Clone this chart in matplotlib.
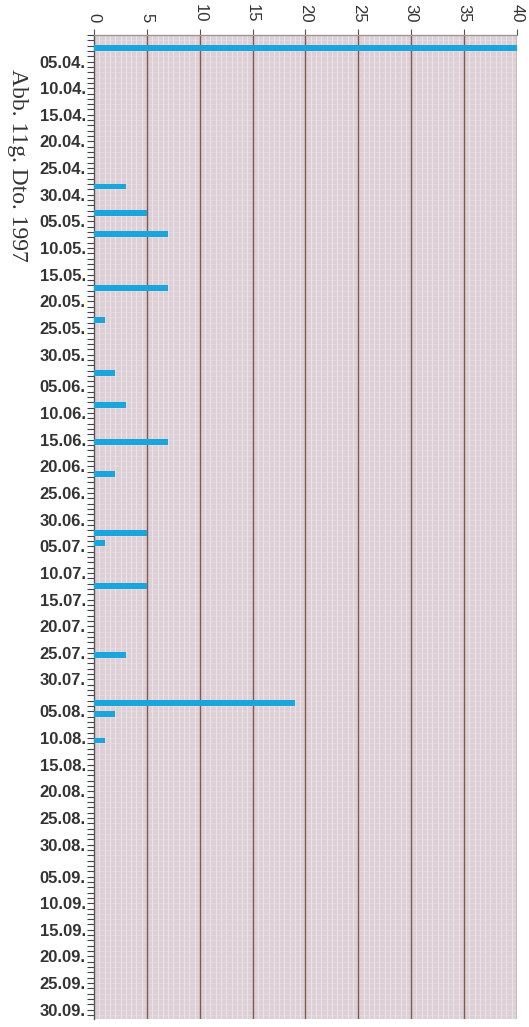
import datetime as dt
import matplotlib
matplotlib.use("Agg")
import matplotlib.pyplot as plt
from matplotlib.ticker import MultipleLocator, FixedLocator
import numpy as np

# ---- data ----
year = 1997
bar_dates = ["03.04", "29.04", "04.05", "08.05", "18.05", "24.05",
             "03.06", "09.06", "16.06", "22.06", "03.07", "05.07",
             "13.07", "26.07", "04.08", "06.08", "11.08"]
bar_values = [40, 3, 5, 7, 7, 1,
              2, 3, 7, 2, 5, 1,
              5, 3, 19, 2, 1]
months = [4, 5, 6, 7, 8, 9]
label_days = [5, 10, 15, 20, 25, 30]
x_ticks = [0, 5, 10, 15, 20, 25, 30, 35, 40]
title = "Abb. 11g. Dto. 1997"

origin = dt.date(year, 3, 31)


def day_index(s):
    d, m = s.split(".")
    return (dt.date(year, int(m), int(d)) - origin).days


bar_pos = [day_index(s) for s in bar_dates]
tick_labels = [f"{d:02d}.{m:02d}." for m in months for d in label_days]
tick_pos = [day_index(f"{d:02d}.{m:02d}") for m in months for d in label_days]

# ---- figure ----
fig = plt.figure(figsize=(5.29, 10.27), dpi=100)
ax = fig.add_axes([0.178, 0.008, 0.799, 0.958])
ax.set_facecolor("#dccfd5")

ax.set_xlim(0, 40)
ax.set_ylim(184.7, 0)

# textured grid imitation
for xv in np.arange(0, 40, 0.5):
    ax.axvline(xv, color="#eee8ec", lw=0.9, alpha=0.8, zorder=0)
for yv in np.arange(0, 185, 1):
    ax.axhline(yv, color="#e8e0e4", lw=0.5, alpha=0.7, zorder=0)
for xv in x_ticks[1:]:
    ax.axvline(xv, color="#85584f", lw=1.0, zorder=1)

ax.barh(bar_pos, bar_values, height=-1.1, align="edge",
        color="#1aa6dc", zorder=3)

ax.xaxis.tick_top()
ax.set_xticks(x_ticks)
ax.set_xticklabels([str(v) for v in x_ticks], rotation=-90,
                   fontsize=12, family="Liberation Sans", color="#333333")
ax.tick_params(axis="x", which="major", length=4, width=0.8,
               color="#555555", pad=5)

ax.yaxis.set_major_locator(FixedLocator(tick_pos))
ax.set_yticklabels(tick_labels, fontsize=12, family="Liberation Sans",
                   color="#333333", fontweight="bold")
ax.yaxis.set_minor_locator(MultipleLocator(1))
ax.tick_params(axis="y", which="both", length=5, width=0.8,
               color="#444444", pad=1)

for side in ["right", "bottom"]:
    ax.spines[side].set_visible(False)
ax.spines["left"].set_color("#555555")
ax.spines["left"].set_linewidth(1.0)
ax.spines["top"].set_color("#999999")
ax.spines["top"].set_linewidth(1.0)

fig.text(0.034, 0.839, title, rotation=-90, ha="center", va="center",
         family="Liberation Serif", fontsize=17, color="#333333")

fig.savefig("out.png", dpi=100)
